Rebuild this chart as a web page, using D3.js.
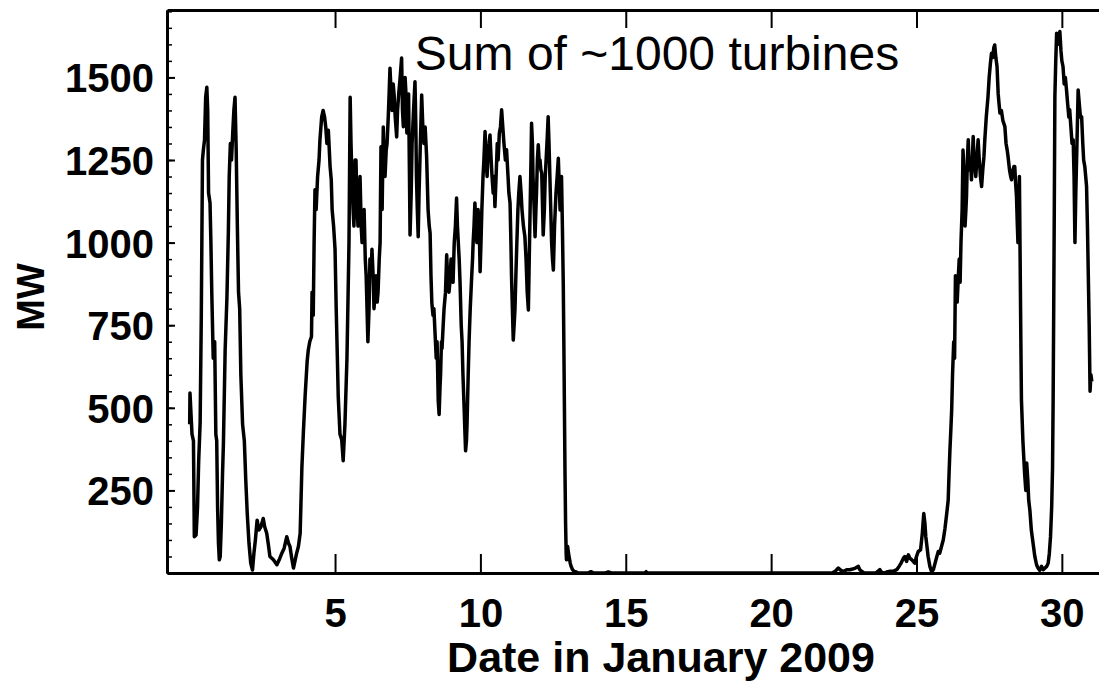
<!DOCTYPE html>
<html>
<head>
<meta charset="utf-8">
<script src="https://cdn.jsdelivr.net/npm/d3@7"></script>
<style>
  body { margin: 0; background: #fff; }
  svg { display: block; font-family: "Liberation Sans", Arial, sans-serif; }
</style>
</head>
<body>
<svg id="chart" width="1099" height="683"></svg>
<script>

// day of January 2009 (fractional) and wind power in MW
var days = [
    0.00, 0.01, 0.08, 0.13, 0.16, 0.22, 0.27, 0.31, 0.36, 0.40, 0.44, 0.47, 0.51, 0.55, 0.59, 0.62, 0.65, 0.70, 0.73, 0.76,
    0.81, 0.86, 0.90, 0.93, 0.96, 0.99, 1.02, 1.05, 1.09, 1.13, 1.16, 1.22, 1.28, 1.33, 1.36, 1.40, 1.44, 1.48, 1.52, 1.56,
    1.60, 1.64, 1.68, 1.72, 1.76, 1.82, 1.88, 1.93, 1.98, 2.04, 2.10, 2.16, 2.21, 2.26, 2.32, 2.38, 2.45, 2.53, 2.58, 2.65,
    2.70, 2.76, 2.88, 3.00, 3.08, 3.17, 3.25, 3.34, 3.40, 3.45, 3.51, 3.57, 3.63, 3.68, 3.74, 3.80, 3.86, 3.91, 3.97, 4.04,
    4.08, 4.13, 4.19, 4.21, 4.25, 4.28, 4.31, 4.35, 4.40, 4.45, 4.48, 4.54, 4.59, 4.64, 4.68, 4.72, 4.77, 4.83, 4.87, 4.90,
    4.95, 5.00, 5.04, 5.08, 5.11, 5.17, 5.23, 5.28, 5.34, 5.41, 5.45, 5.48, 5.52, 5.55, 5.58, 5.62, 5.65, 5.69, 5.72, 5.76,
    5.79, 5.83, 5.86, 5.90, 5.93, 5.97, 6.00, 6.04, 6.07, 6.10, 6.13, 6.17, 6.20, 6.24, 6.27, 6.31, 6.34, 6.38, 6.41, 6.45,
    6.48, 6.52, 6.55, 6.58, 6.62, 6.66, 6.69, 6.72, 6.76, 6.79, 6.83, 6.86, 6.89, 6.93, 6.96, 7.00, 7.03, 7.07, 7.12, 7.15,
    7.19, 7.24, 7.29, 7.32, 7.35, 7.38, 7.41, 7.44, 7.47, 7.50, 7.53, 7.56, 7.58, 7.62, 7.65, 7.70, 7.75, 7.78, 7.80, 7.83,
    7.86, 7.89, 7.92, 7.95, 7.98, 8.02, 8.06, 8.10, 8.15, 8.20, 8.24, 8.27, 8.30, 8.33, 8.37, 8.40, 8.44, 8.48, 8.51, 8.55,
    8.58, 8.61, 8.63, 8.66, 8.68, 8.72, 8.75, 8.80, 8.84, 8.88, 8.92, 8.95, 8.99, 9.03, 9.06, 9.10, 9.14, 9.18, 9.21, 9.24,
    9.27, 9.30, 9.34, 9.37, 9.40, 9.44, 9.47, 9.49, 9.52, 9.54, 9.58, 9.61, 9.65, 9.70, 9.73, 9.75, 9.78, 9.81, 9.85, 9.88,
    9.92, 9.96, 9.99, 10.02, 10.05, 10.09, 10.12, 10.16, 10.20, 10.23, 10.27, 10.30, 10.33, 10.37, 10.40, 10.44, 10.47, 10.50, 10.54, 10.58,
    10.61, 10.65, 10.69, 10.73, 10.77, 10.81, 10.86, 10.90, 10.95, 10.98, 11.02, 11.05, 11.07, 11.10, 11.13, 11.16, 11.19, 11.22, 11.25, 11.29,
    11.32, 11.36, 11.40, 11.43, 11.48, 11.53, 11.57, 11.61, 11.65, 11.68, 11.71, 11.74, 11.76, 11.79, 11.81, 11.85, 11.88, 11.91, 11.93, 11.96,
    11.99, 12.02, 12.05, 12.08, 12.11, 12.14, 12.16, 12.20, 12.23, 12.26, 12.30, 12.33, 12.36, 12.39, 12.42, 12.45, 12.48, 12.51, 12.55, 12.60,
    12.64, 12.68, 12.71, 12.74, 12.77, 12.79, 12.82, 12.85, 12.87, 12.89, 12.91, 12.93, 12.95, 12.96, 12.98, 13.00, 13.03, 13.05, 13.09, 13.12,
    13.17, 13.22, 13.30, 13.36, 13.70, 13.80, 13.90, 14.30, 14.40, 14.50, 15.65, 15.70, 15.75, 22.10, 22.20, 22.31, 22.40, 22.50, 22.60, 22.71,
    22.80, 22.90, 23.00, 23.05, 23.11, 23.20, 23.60, 23.74, 23.80, 23.90, 23.97, 24.10, 24.20, 24.32, 24.40, 24.47, 24.55, 24.60, 24.66, 24.72,
    24.77, 24.84, 24.94, 25.00, 25.06, 25.14, 25.20, 25.25, 25.29, 25.32, 25.36, 25.40, 25.46, 25.52, 25.58, 25.64, 25.70, 25.75, 25.80, 25.86,
    25.92, 25.98, 26.04, 26.09, 26.12, 26.15, 26.18, 26.21, 26.24, 26.28, 26.31, 26.34, 26.37, 26.40, 26.44, 26.47, 26.50, 26.53, 26.57, 26.60,
    26.64, 26.67, 26.70, 26.72, 26.75, 26.78, 26.82, 26.86, 26.89, 26.92, 26.95, 26.98, 27.01, 27.04, 27.08, 27.12, 27.16, 27.20, 27.24, 27.28,
    27.32, 27.35, 27.40, 27.46, 27.50, 27.54, 27.58, 27.62, 27.66, 27.69, 27.73, 27.77, 27.81, 27.84, 27.87, 27.92, 27.97, 28.04, 28.08, 28.12,
    28.15, 28.20, 28.24, 28.27, 28.32, 28.35, 28.38, 28.41, 28.44, 28.47, 28.49, 28.52, 28.54, 28.57, 28.59, 28.61, 28.66, 28.72, 28.76, 28.79,
    28.83, 28.86, 28.90, 28.95, 29.01, 29.07, 29.13, 29.18, 29.24, 29.30, 29.36, 29.42, 29.48, 29.53, 29.57, 29.61, 29.65, 29.68, 29.70, 29.72,
    29.74, 29.76, 29.79, 29.82, 29.87, 29.93, 29.97, 30.00, 30.04, 30.08, 30.12, 30.16, 30.20, 30.24, 30.27, 30.31, 30.35, 30.39, 30.42, 30.45,
    30.48, 30.52, 30.56, 30.60, 30.64, 30.68, 30.72, 30.75, 30.79, 30.82, 30.85, 30.88, 30.91, 30.94, 30.97, 31.00, 31.03
];

var mw = [
    450, 545, 420, 400, 110, 115, 200, 340, 455, 780, 1250, 1280, 1310, 1440, 1470, 1400, 1150, 1120, 1000, 850,
    650, 700, 420, 400, 200, 90, 40, 50, 150, 300, 390, 675, 830, 1030, 1200, 1300, 1250, 1330, 1400, 1440,
    1280, 1050, 850, 800, 600, 450, 400, 280, 180, 90, 30, 9, 60, 100, 160, 130, 140, 165, 140, 120,
    90, 50, 40, 25, 40, 60, 75, 110, 90, 80, 45, 15, 40, 60, 80, 120, 320, 424, 534, 640,
    675, 700, 716, 850, 780, 1000, 1160, 1100, 1200, 1250, 1310, 1380, 1400, 1380, 1350, 1300, 1340, 1230, 1190, 1100,
    1050, 980, 800, 650, 534, 420, 403, 340, 450, 650, 850, 1000, 1440, 1300, 1200, 1100, 1050, 1250, 1250, 1100,
    1050, 1150, 1200, 1050, 1000, 1050, 1100, 950, 900, 800, 700, 800, 950, 900, 980, 900, 800, 850, 900, 820,
    850, 950, 1000, 1290, 1100, 1350, 1250, 1200, 1280, 1300, 1380, 1450, 1528, 1450, 1400, 1480, 1450, 1380, 1320, 1400,
    1450, 1500, 1559, 1400, 1351, 1420, 1500, 1450, 1332, 1400, 1450, 1200, 1023, 1150, 1300, 1400, 1487, 1350, 1200, 1100,
    1018, 1150, 1250, 1350, 1447, 1350, 1300, 1350, 1260, 1100, 1050, 1029, 900, 817, 780, 800, 726, 650, 700, 520,
    480, 560, 600, 700, 680, 750, 800, 850, 963, 880, 850, 880, 950, 900, 880, 1000, 1050, 1135, 1050, 1000,
    950, 878, 750, 700, 600, 500, 420, 370, 400, 450, 600, 700, 800, 897, 950, 1000, 1050, 1120, 1050, 1000,
    1100, 1050, 912, 1000, 1100, 1200, 1250, 1336, 1250, 1200, 1280, 1300, 1326, 1250, 1200, 1150, 1200, 1109, 1200, 1300,
    1250, 1330, 1350, 1402, 1350, 1300, 1250, 1281, 1200, 1150, 1120, 1000, 900, 800, 705, 750, 800, 900, 988, 1100,
    1150, 1200, 1150, 1100, 1050, 1018, 950, 850, 796, 950, 1100, 1250, 1361, 1300, 1200, 1100, 1018, 1100, 1150, 1250,
    1296, 1250, 1250, 1220, 1210, 1100, 1023, 1100, 1200, 1250, 1320, 1381, 1300, 1200, 1100, 1000, 950, 917, 1050, 1150,
    1200, 1255, 1180, 1099, 1150, 1200, 1050, 878, 700, 500, 300, 150, 60, 40, 70, 80, 60, 50, 30, 20,
    10, 5, 3, 0, 0, 4, 0, 0, 3, 0, 0, 4, 0, 0, 5, 15, 8, 5, 10, 10,
    12, 15, 20, 10, 5, 0, 0, 10, 2, 0, 3, 5, 5, 10, 20, 30, 45, 50, 35, 55,
    45, 40, 30, 50, 65, 70, 120, 180, 150, 110, 80, 50, 20, 4, 10, 30, 50, 65, 60, 80,
    100, 135, 180, 220, 300, 372, 430, 493, 600, 700, 650, 900, 850, 820, 900, 950, 880, 1000, 1100, 1280,
    1200, 1050, 1100, 1140, 1250, 1311, 1220, 1250, 1190, 1250, 1321, 1250, 1230, 1200, 1260, 1311, 1250, 1200, 1170, 1220,
    1260, 1311, 1380, 1442, 1500, 1540, 1573, 1560, 1590, 1598, 1560, 1533, 1450, 1420, 1392, 1400, 1370, 1351, 1300, 1280,
    1260, 1220, 1200, 1190, 1220, 1230, 1230, 1180, 1139, 1050, 1000, 1100, 1200, 900, 700, 524, 400, 300, 250, 333,
    280, 220, 190, 130, 90, 50, 25, 15, 8, 20, 10, 15, 20, 30, 60, 110, 200, 320, 524, 800,
    1100, 1442, 1550, 1634, 1600, 1639, 1580, 1550, 1533, 1480, 1500, 1462, 1420, 1380, 1402, 1350, 1300, 1311, 1200, 1000,
    1150, 1300, 1462, 1420, 1380, 1381, 1300, 1250, 1230, 1200, 1170, 1050, 900, 750, 550, 600, 580
];

var xTicks = [5, 10, 15, 20, 25, 30];
var yTicks = [250, 500, 750, 1000, 1250, 1500];
var yMinorTicks = d3.range(0, 1701, 50);

var svg = d3.select('#chart');
var plotLeft = 167, plotTop = 10, plotBottom = 573;

// the plot runs past the right edge of the picture
var x = d3.scaleLinear().domain([-0.78, 32]).range([plotLeft, 1120]);
var y = d3.scaleLinear().domain([0, 1704]).range([plotBottom, plotTop]);

var points = days.map(function(d, i) { return [d, mw[i]]; });

svg.append('path')
    .datum(points)
    .attr('d', d3.line()
        .x(function(d) { return x(d[0]); })
        .y(function(d) { return y(d[1]); }))
    .attr('fill', 'none')
    .attr('stroke', '#000')
    .attr('stroke-width', 3.5)
    .attr('stroke-linejoin', 'round');

// bottom axis, ticks pointing into the plot
var xAxis = svg.append('g')
    .attr('transform', 'translate(0,' + plotBottom + ')')
    .call(d3.axisBottom(x).tickValues(xTicks).tickSize(-19).tickSizeOuter(0).tickPadding(26));

// top frame with the same ticks, no labels
var xTop = svg.append('g')
    .attr('transform', 'translate(0,' + plotTop + ')')
    .call(d3.axisTop(x).tickValues(xTicks).tickSize(-18).tickSizeOuter(0).tickFormat(''));

// left axis: minor ticks every 50, labelled ticks every 250
var yMinor = svg.append('g')
    .attr('transform', 'translate(' + plotLeft + ',0)')
    .call(d3.axisLeft(y).tickValues(yMinorTicks).tickSize(-5).tickSizeOuter(0).tickFormat(''));

var yAxis = svg.append('g')
    .attr('transform', 'translate(' + plotLeft + ',0)')
    .call(d3.axisLeft(y).tickValues(yTicks).tickSize(-8).tickSizeOuter(0).tickPadding(13)
        .tickFormat(d3.format('d')));

svg.selectAll('.domain').attr('stroke', '#000').attr('stroke-width', 3);
svg.selectAll('.tick line').attr('stroke', '#000').attr('stroke-width', 2);
yMinor.selectAll('.tick line').attr('stroke-width', 1.5);

svg.selectAll('.tick text')
    .attr('fill', '#000')
    .style('font-size', '40px')
    .style('font-weight', 'bold')
    .style('font-family', '"Liberation Sans", Arial, sans-serif');
yAxis.selectAll('.tick text').attr('dy', '0.36em');

svg.append('text')
    .attr('x', 661)
    .attr('y', 672)
    .attr('text-anchor', 'middle')
    .style('font-size', '43px')
    .style('font-weight', 'bold')
    .text('Date in January 2009');

svg.append('text')
    .attr('transform', 'translate(44,297) rotate(-90)')
    .attr('text-anchor', 'middle')
    .style('font-size', '38px')
    .style('font-weight', 'bold')
    .text('MW');

svg.append('text')
    .attr('x', 657)
    .attr('y', 70)
    .attr('text-anchor', 'middle')
    .style('font-size', '48px')
    .text('Sum of ~1000 turbines');

</script>
</body>
</html>
